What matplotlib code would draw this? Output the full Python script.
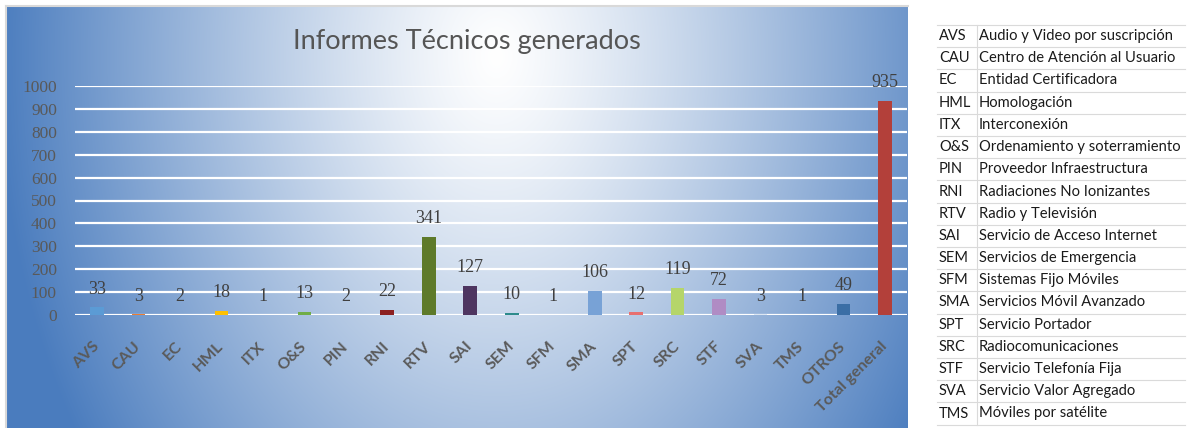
import matplotlib.pyplot as plt
import numpy as np
from matplotlib.lines import Line2D


# datos del grafico
categorias = ['AVS', 'CAU', 'EC', 'HML', 'ITX', 'O&S', 'PIN', 'RNI', 'RTV', 'SAI',
              'SEM', 'SFM', 'SMA', 'SPT', 'SRC', 'STF', 'SVA', 'TMS', 'OTROS',
              'Total general']
informes = [33, 3, 2, 18, 1, 13, 2, 22, 341, 127, 10, 1, 106, 12, 119, 72, 3, 1, 49, 935]
colores = ['#5b9bd5', '#ed7d31', '#a5a5a5', '#ffc000', '#4472c4', '#70ad47', '#264478',
           '#8c2020', '#5e7a2a', '#4e3560', '#2e8b8b', '#e07a30', '#78a2d6', '#e87070',
           '#b5d56a', '#b08cc4', '#dce6f2', '#f0b070', '#3b6ea5', '#b3403a']

# tabla de siglas
siglas = ['AVS', 'CAU', 'EC', 'HML', 'ITX', 'O&S', 'PIN', 'RNI', 'RTV', 'SAI', 'SEM',
          'SFM', 'SMA', 'SPT', 'SRC', 'STF', 'SVA', 'TMS']
descripciones = ['Audio y Video por suscripción', 'Centro de Atención al Usuario',
                 'Entidad Certificadora', 'Homologación', 'Interconexión',
                 'Ordenamiento y soterramiento', 'Proveedor Infraestructura',
                 'Radiaciones No Ionizantes', 'Radio y Televisión',
                 'Servicio de Acceso Internet', 'Servicios de Emergencia',
                 'Sistemas Fijo Móviles', 'Servicios Móvil Avanzado', 'Servicio Portador',
                 'Radiocomunicaciones', 'Servicio Telefonía Fija', 'Servicio Valor Agregado',
                 'Móviles por satélite']

W, H = 1187, 428
fig = plt.figure(figsize=(W / 100, H / 100), dpi=100)
fig.patch.set_facecolor('white')

# fondo degradado del panel
px0, px1, py0, py1 = 6, 908, 6, 428
fondo = fig.add_axes([px0 / W, 1 - py1 / H, (px1 - px0) / W, (py1 - py0) / H])
fondo.set_axis_off()
xx, yy = np.meshgrid(np.arange(px1 - px0), np.arange(py1 - py0))
d = np.sqrt(((xx - 490) / 500.0) ** 2 + ((yy - 50) / 700.0) ** 2)
t = np.clip(d, 0, 1) ** 1.2
azul = np.array([74, 124, 190]) / 255.0
img = (1 - t[..., None]) * np.ones(3) + t[..., None] * azul
fondo.imshow(img, aspect='auto', interpolation='bilinear')

# borde gris del panel
fig.add_artist(Line2D([px0 / W, px1 / W], [1 - py0 / H, 1 - py0 / H], color='#d9d9d9', lw=1.5))
fig.add_artist(Line2D([px0 / W, px0 / W], [0, 1 - py0 / H], color='#d9d9d9', lw=1.5))

# ejes principales
ax = fig.add_axes([75 / W, (H - 315) / H, 832 / W, 229 / H])
ax.patch.set_alpha(0)
x = np.arange(len(categorias))
ax.bar(x, informes, width=0.33, color=colores, zorder=3)
ax.set_xlim(-0.53, len(categorias) - 0.47)
ax.set_ylim(0, 1000)
ax.set_yticks(np.arange(0, 1001, 100))
ax.grid(axis='y', color='white', lw=1.6, zorder=1)
ax.set_axisbelow(True)
for s in ax.spines.values():
    s.set_visible(False)
ax.tick_params(length=0)
ax.tick_params(axis='y', pad=13, labelsize=12.5, labelcolor='#595959')
for lbl in ax.get_yticklabels():
    lbl.set_fontfamily('Liberation Serif')

ax.set_xticks(x)
ax.set_xticklabels(categorias, rotation=45, ha='right', va='center',
                   rotation_mode='anchor', fontsize=11.5, fontweight='bold',
                   color='#5a5a5a', family='Lato')
ax.tick_params(axis='x', pad=21)

for xi, v in zip(x, informes):
    ax.annotate(str(v), (xi, v), xytext=(0, 7), textcoords='offset points',
                ha='center', va='bottom', fontsize=13, color='#404040',
                family='Liberation Serif', clip_on=False, zorder=4)

fig.text(467 / W, 1 - 41 / H, 'Informes Técnicos generados', ha='center', va='center',
         fontsize=19.5, color='#555555', family='Lato')

# tabla de la derecha
fila = 22.2
y0 = 25
tx0, tx1, tsep = 937, 1185, 977
for i, (s, desc) in enumerate(zip(siglas, descripciones)):
    yc = y0 + fila * (i + 0.5)
    fig.text(939 / W, 1 - yc / H, s, ha='left', va='center', fontsize=10.5, color='#1a1a1a',
             family='Lato')
    fig.text(979 / W, 1 - yc / H, desc, ha='left', va='center', fontsize=10.6,
             color='#1a1a1a', family='Lato')
for i in range(len(siglas) + 1):
    yl = 1 - (y0 + fila * i) / H
    fig.add_artist(Line2D([tx0 / W, tx1 / W], [yl, yl], color='#dadada', lw=0.8))
fig.add_artist(Line2D([tsep / W, tsep / W], [1 - y0 / H, 1 - (y0 + fila * len(siglas)) / H],
                      color='#dadada', lw=0.8))

fig.savefig('out.png', dpi=100)
